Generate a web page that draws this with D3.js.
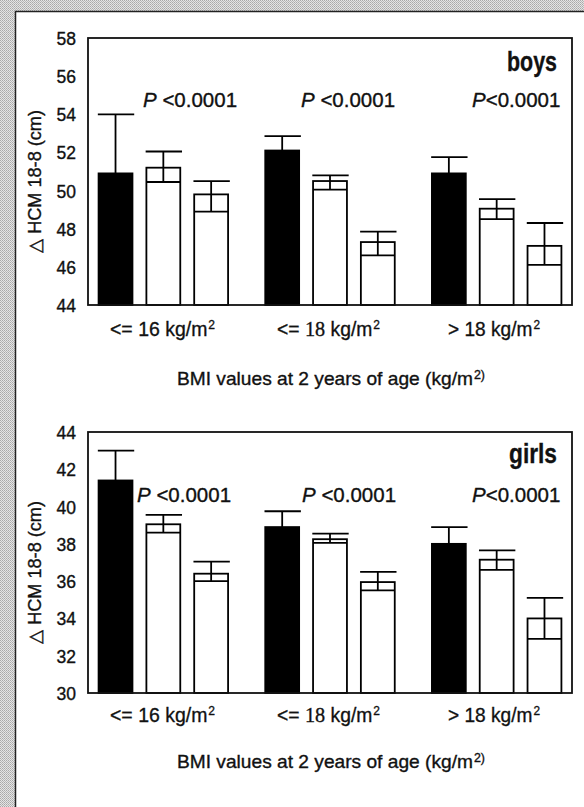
<!DOCTYPE html>
<html>
<head>
<meta charset="utf-8">
<script src="https://cdn.jsdelivr.net/npm/d3@7"></script>
<style>
  body { margin: 0; padding: 0; background: #fff; }
  svg { display: block; }
  text { fill: #111; stroke: #111; stroke-width: 0.35px; }
</style>
</head>
<body>
<div id="chart"></div>
<script>
const W = 584, H = 807;

// categories (BMI at 2 years) and bar series
const groups = ["g16", "g18", "gt18"];
const bars = ["black", "white1", "white2"];

// boys: bar height, lower whisker, upper whisker
const boysMean = [[50.9, 51.2, 49.8], [52.1, 50.5, 47.3], [50.9, 49.05, 47.1]];
const boysLow  = [[47.8, 50.45, 48.9], [51.4, 50.05, 46.6], [50.0, 48.5, 46.1]];
const boysHigh = [[54.0, 52.05, 50.5], [52.85, 50.8, 47.85], [51.75, 49.55, 48.3]];

// girls
const girlsMean = [[41.4, 39.05, 36.4], [38.9, 38.25, 35.95], [38.0, 37.15, 34.0]];
const girlsLow  = [[39.9, 38.6, 36.0], [38.0, 38.05, 35.5], [37.1, 36.6, 32.9]];
const girlsHigh = [[43.0, 39.55, 37.05], [39.75, 38.55, 36.5], [38.9, 37.65, 35.1]];

const boysTicks = [44, 46, 48, 50, 52, 54, 56, 58];
const girlsTicks = [30, 32, 34, 36, 38, 40, 42, 44];

const pLabel = ["P", " <0.0001"];
const pLabelLast = ["P", "<0.0001"];

var svg = d3.select("#chart").append("svg")
    .attr("width", W).attr("height", H);

// stippled grey border
var defs = svg.append("defs");
var pat = defs.append("pattern").attr("id", "stip")
    .attr("width", 2).attr("height", 2).attr("patternUnits", "userSpaceOnUse");
pat.append("rect").attr("width", 2).attr("height", 2).attr("fill", "#e4e4e4");
pat.append("rect").attr("width", 1).attr("height", 1).attr("fill", "#a8a8a8");
pat.append("rect").attr("x", 1).attr("y", 1).attr("width", 1).attr("height", 1).attr("fill", "#b8b8b8");

svg.append("rect").attr("width", W).attr("height", H).attr("fill", "url(#stip)");
svg.append("rect").attr("x", 15).attr("y", 11).attr("width", W - 15).attr("height", H - 11).attr("fill", "#fff");
svg.append("line").attr("x1", 15).attr("x2", W).attr("y1", 11.5).attr("y2", 11.5).attr("stroke", "#222").attr("stroke-width", 1.5);
svg.append("line").attr("x1", 15.5).attr("x2", 15.5).attr("y1", 11).attr("y2", H).attr("stroke", "#222").attr("stroke-width", 1.5);

const sans = "'Liberation Sans', Arial, Helvetica, sans-serif";

function drawPanel(cfg) {
    var x0 = d3.scaleBand().domain(groups).range([88, 572])
        .paddingInner(0.214).paddingOuter(0.059);
    var x1 = d3.scaleBand().domain(bars).range([0, x0.bandwidth()])
        .paddingInner(0.26).paddingOuter(0);
    var y = d3.scaleLinear().domain(cfg.domain).range([cfg.bottom, cfg.top]);

    var g = svg.append("g");

    // y tick labels
    g.selectAll(".tick").data(cfg.ticks).enter().append("text")
        .attr("x", 76).attr("y", d => y(d) + 7)
        .attr("text-anchor", "end")
        .attr("font-family", sans).attr("font-size", 17.5)
        .text(d => d);

    // bars
    var rows = [];
    groups.forEach(function(gr, i) {
        bars.forEach(function(b, j) {
            rows.push({g: gr, b: b, v: cfg.mean[i][j], lo: cfg.low[i][j], hi: cfg.high[i][j]});
        });
    });

    var bg = g.selectAll(".bar").data(rows).enter().append("g")
        .attr("transform", d => "translate(" + (x0(d.g) + x1(d.b)) + ",0)");
    var bw = x1.bandwidth();

    bg.append("rect")
        .attr("x", 0.75).attr("width", bw - 1.5)
        .attr("y", d => y(d.v))
        .attr("height", d => cfg.bottom - y(d.v))
        .attr("fill", d => d.b == "black" ? "#000" : "#fff")
        .attr("stroke", "#000").attr("stroke-width", 1.8);
    // lower line inside bar
    bg.filter(d => d.b != "black").append("line")
        .attr("x1", 0.75).attr("x2", bw - 0.75)
        .attr("y1", d => y(d.lo)).attr("y2", d => y(d.lo))
        .attr("stroke", "#000").attr("stroke-width", 1.8);
    // whisker
    bg.append("line")
        .attr("x1", bw / 2).attr("x2", bw / 2)
        .attr("y1", d => d.b == "black" ? y(d.v) : y(d.lo))
        .attr("y2", d => y(d.hi))
        .attr("stroke", "#000").attr("stroke-width", 1.8);
    // cap
    bg.append("line")
        .attr("x1", 0).attr("x2", bw + 1)
        .attr("y1", d => y(d.hi)).attr("y2", d => y(d.hi))
        .attr("stroke", "#000").attr("stroke-width", 1.8);

    // frame
    g.append("rect")
        .attr("x", 88).attr("y", cfg.top)
        .attr("width", 572 - 88).attr("height", cfg.bottom - cfg.top)
        .attr("fill", "none").attr("stroke", "#111").attr("stroke-width", 1.8);

    // sex label (condensed bold)
    g.append("text")
        .attr("x", 557).attr("y", cfg.top + cfg.sexDy)
        .attr("text-anchor", "end")
        .attr("font-family", sans).attr("font-weight", "bold")
        .attr("font-size", 28)
        .attr("textLength", cfg.sexW).attr("lengthAdjust", "spacingAndGlyphs")
        .text(cfg.sex);

    // P values
    cfg.pX.forEach(function(px, i) {
        var parts = i == 2 ? pLabelLast : pLabel;
        var t = g.append("text")
            .attr("x", px).attr("y", cfg.pY)
            .attr("font-family", sans).attr("font-size", 20.5);
        t.append("tspan").attr("font-style", "italic").text(parts[0]);
        t.append("tspan").text(parts[1]);
    });

    // category labels
    var catLabels = [
        [["<= 16 kg/m", "n"], ["2", "sup"]],
        [["<= ", "n"], ["18", "serif"], [" kg/m", "n"], ["2", "sup"]],
        [["> 18 kg/m", "n"], ["2", "sup"]]
    ];
    var catW = [105, 103, 92];
    var catX = [110, 277, 448];
    groups.forEach(function(gr, i) {
        var t = g.append("text")
            .attr("x", catX[i])
            .attr("y", cfg.catY)
            .attr("font-family", sans).attr("font-size", 21)
            .attr("textLength", catW[i]).attr("lengthAdjust", "spacingAndGlyphs");
        catLabels[i].forEach(function(p) {
            if (p[1] == "sup") {
                t.append("tspan").attr("font-size", 13).attr("dx", 1).attr("dy", -7).text(p[0]);
            } else if (p[1] == "serif") {
                t.append("tspan").attr("font-family", "'Liberation Serif', serif").attr("font-size", 22).text(p[0]);
            } else {
                t.append("tspan").text(p[0]);
            }
        });
    });

    // x title
    var xt = g.append("text")
        .attr("x", 177).attr("y", cfg.titleY)
        .attr("font-family", sans).attr("font-size", 18.5)
        .attr("textLength", 308).attr("lengthAdjust", "spacingAndGlyphs");
    xt.append("tspan").text("BMI values at 2 years of age (kg/m");
    xt.append("tspan").attr("font-size", 12).attr("dx", 1).attr("dy", -6).text("2)");

    // y title
    g.append("text")
        .attr("transform", "translate(41," + ((cfg.top + cfg.bottom) / 2 + 10) + ") rotate(-90)")
        .attr("text-anchor", "middle")
        .attr("font-family", sans).attr("font-size", 18)
        .attr("textLength", 143).attr("lengthAdjust", "spacingAndGlyphs")
        .text("\u25B3 HCM 18-8 (cm)");
}

drawPanel({
    domain: [44, 58], top: 38, bottom: 305, ticks: boysTicks,
    mean: boysMean, low: boysLow, high: boysHigh,
    sex: "boys", sexDy: 33, sexW: 50,
    pX: [143, 301, 472], pY: 107,
    catY: 336, titleY: 385
});

drawPanel({
    domain: [30, 44], top: 432, bottom: 693, ticks: girlsTicks,
    mean: girlsMean, low: girlsLow, high: girlsHigh,
    sex: "girls", sexDy: 31, sexW: 48,
    pX: [137, 302, 472], pY: 502,
    catY: 722, titleY: 768
});
</script>
</body>
</html>
